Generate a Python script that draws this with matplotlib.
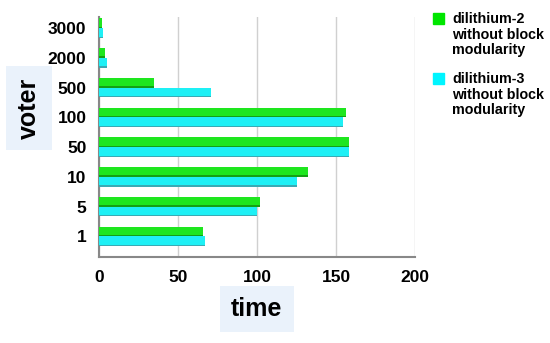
import matplotlib
matplotlib.use("Agg")
import matplotlib.pyplot as plt
import numpy as np
from matplotlib.patches import Rectangle

# datos
voters = ["1", "5", "10", "50", "100", "500", "2000", "3000"]
dil2_time = [66, 102, 132, 158, 156, 35, 4, 2]
dil3_time = [67, 100, 125, 158, 154, 71, 5, 2.5]
labels = ["dilithium-2\nwithout block\nmodularity", "dilithium-3\nwithout block\nmodularity"]

plt.rcParams["font.family"] = ["Liberation Sans", "DejaVu Sans"]
plt.rcParams["font.weight"] = "bold"

fig = plt.figure(figsize=(5.5, 3.43), dpi=100)
ax = fig.add_axes([0.18, 0.25, 0.575, 0.70])

y = np.arange(len(voters))
h = 0.33
green, green_dark = "#1ee61e", "#14a014"
cyan, cyan_dark = "#1ef0f5", "#3aaab4"

# barras con un borde inferior oscuro (efecto 3D)
ax.barh(y + h / 2, dil2_time, height=h, color=green, zorder=3)
ax.barh(y + h * 0.08, dil2_time, height=h * 0.16, color=green_dark, zorder=4)
ax.barh(y - h / 2, dil3_time, height=h, color=cyan, zorder=3)
ax.barh(y - h + h * 0.07, dil3_time, height=h * 0.14, color=cyan_dark, zorder=4)

ax.set_xlim(0, 200)
ax.set_ylim(-0.7, 7.37)
ax.set_xticks([0, 50, 100, 150, 200])
ax.set_yticks(y)
ax.set_yticklabels(voters)
ax.tick_params(axis="both", length=0, labelsize=12.5)
ax.tick_params(axis="y", pad=9)
ax.tick_params(axis="x", pad=9)
for lab in ax.get_xticklabels() + ax.get_yticklabels():
    lab.set_fontweight("bold")

ax.grid(axis="x", color="#d0d0d0", linewidth=1, zorder=0)
for s in ["top", "right"]:
    ax.spines[s].set_visible(False)
ax.spines["left"].set_color("#888888")
ax.spines["bottom"].set_color("#888888")
ax.spines["left"].set_linewidth(1.5)
ax.spines["bottom"].set_linewidth(1.5)

box = dict(facecolor="#eaf2fb", edgecolor="none", pad=8)
fig.text(0.052, 0.685, "voter", rotation=90, fontsize=18, fontweight="bold",
         ha="center", va="center", bbox=box)
fig.text(0.467, 0.098, "time", fontsize=18, fontweight="bold",
         ha="center", va="center", bbox=box)

# leyenda dibujada a mano: cuadrado alineado con la primera linea
leg_colors = ["#00e600", "#00f5ff"]
leg_tops = [12, 72]  # px desde arriba
for col, lab, top in zip(leg_colors, labels, leg_tops):
    fig.patches.append(Rectangle((433 / 550, 1 - (top + 12) / 343), 11 / 550, 11 / 343,
                                 transform=fig.transFigure, color=col, figure=fig))
    fig.text(452 / 550, 1 - top / 343, lab, fontsize=10.3, fontweight="bold",
             ha="left", va="top", linespacing=1.15)

fig.savefig("out.png", dpi=100)
